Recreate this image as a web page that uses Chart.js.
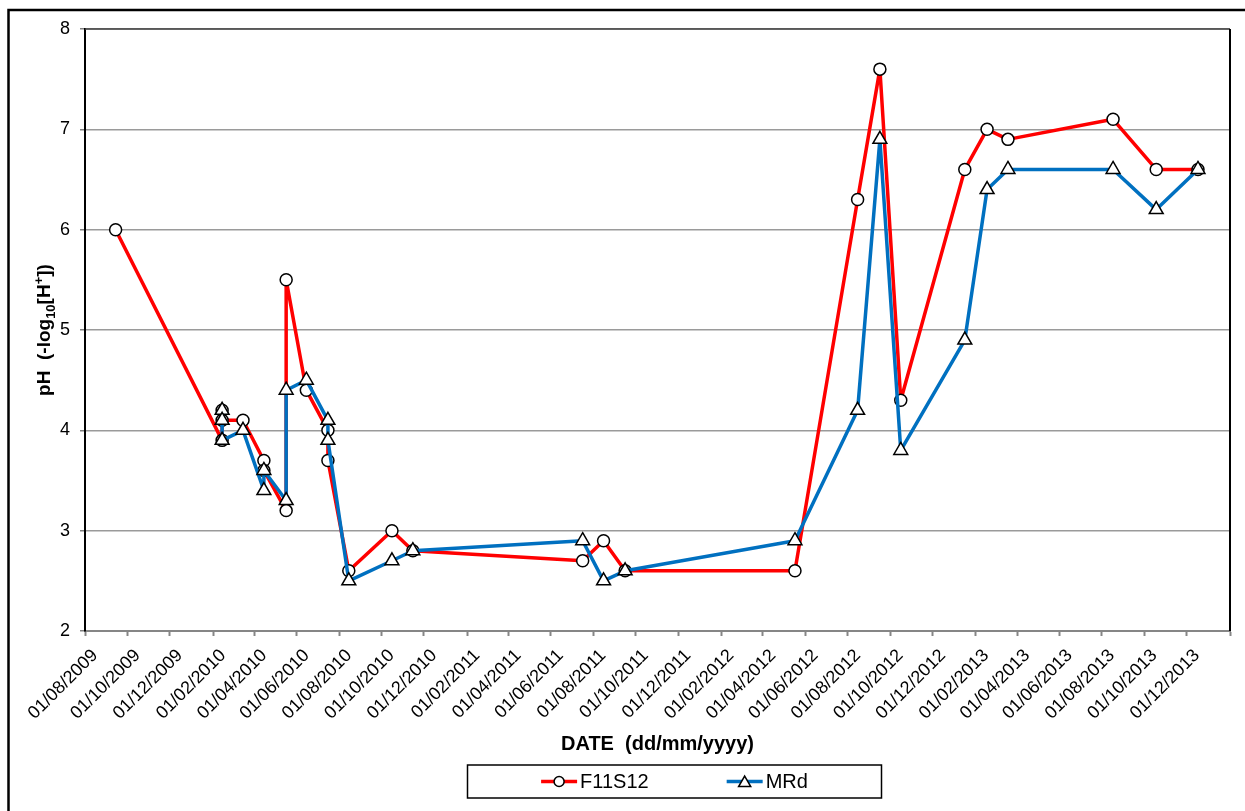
<!DOCTYPE html>
<html>
<head>
<meta charset="utf-8">
<title>pH F11S12 / MRd</title>
<script src="https://cdn.jsdelivr.net/npm/chart.js@4.4.1/dist/chart.umd.min.js"></script>
<style>
  html, body { margin: 0; padding: 0; background: #ffffff; }
  #wrap { width: 1245px; height: 811px; position: relative; }
  canvas { display: block; }
</style>
</head>
<body>
<div id="wrap"><canvas id="phChart" width="1245" height="811"></canvas></div>
<script>
// Sampling dates (dd/mm/yyyy) and pH readings for each monitoring point
const f11s12Dates = [
  '14/09/2009', '14/02/2010', '14/02/2010', '14/02/2010', '16/03/2010',
  '15/04/2010', '15/04/2010', '17/05/2010', '17/05/2010', '15/06/2010',
  '16/07/2010', '16/07/2010', '15/08/2010', '16/10/2010', '15/11/2010',
  '17/07/2011', '16/08/2011', '16/09/2011', '17/05/2012', '15/08/2012',
  '16/09/2012', '16/10/2012', '16/01/2013', '17/02/2013', '19/03/2013',
  '17/08/2013', '18/10/2013', '17/12/2013'
];
const f11s12Ph = [
  6.0, 3.9, 4.2, 4.1, 4.1,
  3.7, 3.6, 3.2, 5.5, 4.4,
  4.0, 3.7, 2.6, 3.0, 2.8,
  2.7, 2.9, 2.6, 2.6, 6.3,
  7.6, 4.3, 6.6, 7.0, 6.9,
  7.1, 6.6, 6.6
];

const mrdDates = [
  '14/02/2010', '14/02/2010', '14/02/2010', '16/03/2010',
  '15/04/2010', '15/04/2010', '17/05/2010', '17/05/2010', '15/06/2010',
  '16/07/2010', '16/07/2010', '15/08/2010', '16/10/2010', '15/11/2010',
  '17/07/2011', '16/08/2011', '16/09/2011', '17/05/2012', '15/08/2012',
  '16/09/2012', '16/10/2012', '16/01/2013', '17/02/2013', '19/03/2013',
  '17/08/2013', '18/10/2013', '17/12/2013'
];
const mrdPh = [
  4.2, 4.1, 3.9, 4.0,
  3.4, 3.6, 3.3, 4.4, 4.5,
  4.1, 3.9, 2.5, 2.7, 2.8,
  2.9, 2.5, 2.6, 2.9, 4.2,
  6.9, 3.8, 4.9, 6.4, 6.6,
  6.6, 6.2, 6.6
];

// Date axis: labelled ticks every two months, axis closes at xAxisEnd
const xTickLabels = [
  '01/08/2009', '01/10/2009', '01/12/2009', '01/02/2010', '01/04/2010',
  '01/06/2010', '01/08/2010', '01/10/2010', '01/12/2010', '01/02/2011',
  '01/04/2011', '01/06/2011', '01/08/2011', '01/10/2011', '01/12/2011',
  '01/02/2012', '01/04/2012', '01/06/2012', '01/08/2012', '01/10/2012',
  '01/12/2012', '01/02/2013', '01/04/2013', '01/06/2013', '01/08/2013',
  '01/10/2013', '01/12/2013'
];
const xAxisEnd = '01/02/2014';
const yTickValues = [2, 3, 4, 5, 6, 7, 8];

const seriesNames = ['F11S12', 'MRd'];
const xAxisTitle = 'DATE  (dd/mm/yyyy)';

// dd/mm/yyyy -> whole days since epoch (UTC)
function dayNumber(s) {
  const [d, m, y] = s.split('/').map(Number);
  return Date.UTC(y, m - 1, d) / 86400000;
}
function toPoints(dates, values) {
  return dates.map((d, i) => ({ x: dayNumber(d), y: values[i] }));
}

const FONT = '"Liberation Sans", Arial, Helvetica, sans-serif';
Chart.defaults.font.family = FONT;
Chart.defaults.color = '#000000';

// Page background, outer frame, plot frame, y title with sub/superscript, boxed legend
const decorations = {
  id: 'decorations',
  beforeDraw(chart) {
    const ctx = chart.ctx;
    ctx.save();
    ctx.fillStyle = '#ffffff';
    ctx.fillRect(0, 0, chart.width, chart.height);
    ctx.restore();
  },
  beforeDatasetsDraw(chart) {
    const { ctx, chartArea: ca } = chart;
    ctx.save();
    ctx.strokeStyle = '#404040';
    ctx.lineWidth = 1.5;
    ctx.beginPath();
    ctx.moveTo(ca.left, ca.top);
    ctx.lineTo(ca.right, ca.top);
    ctx.stroke();
    ctx.strokeStyle = '#000000';
    ctx.lineWidth = 2;
    ctx.beginPath();
    ctx.moveTo(ca.right, ca.top);
    ctx.lineTo(ca.right, ca.bottom);
    ctx.stroke();
    ctx.restore();
  },
  afterDraw(chart) {
    const { ctx, chartArea: ca } = chart;
    ctx.save();

    // outer chart frame
    ctx.strokeStyle = '#000000';
    ctx.lineWidth = 2.5;
    ctx.beginPath();
    ctx.moveTo(8.5, chart.height + 5);
    ctx.lineTo(8.5, 10);
    ctx.lineTo(chart.width + 5, 10);
    ctx.stroke();

    // y axis title: pH  (-log10[H+])
    const parts = [
      { t: 'pH  (-log', f: 'bold 19px ' + FONT, dy: 0 },
      { t: '10', f: 'bold 13px ' + FONT, dy: 5 },
      { t: '[H', f: 'bold 19px ' + FONT, dy: 0 },
      { t: '+', f: 'bold 13px ' + FONT, dy: -7 },
      { t: '])', f: 'bold 19px ' + FONT, dy: 0 }
    ];
    let total = 0;
    parts.forEach(p => { ctx.font = p.f; p.w = ctx.measureText(p.t).width; total += p.w; });
    ctx.translate(43, (ca.top + ca.bottom) / 2);
    ctx.rotate(-Math.PI / 2);
    ctx.fillStyle = '#000000';
    ctx.textBaseline = 'alphabetic';
    ctx.textAlign = 'left';
    let px = -total / 2;
    parts.forEach(p => { ctx.font = p.f; ctx.fillText(p.t, px, 6.5 + p.dy); px += p.w; });
    ctx.setTransform(1, 0, 0, 1, 0, 0);

    // legend
    const sample = 36, gapText = 3, gapItem = 78;
    const legendFont = '20px ' + FONT;
    ctx.font = legendFont;
    const items = chart.data.datasets.map(ds => ({
      label: ds.label, color: ds.borderColor, style: ds.pointStyle,
      radius: ds.pointRadius - 1, width: ctx.measureText(ds.label).width
    }));
    let groupW = 0;
    items.forEach((it, i) => { groupW += sample + gapText + it.width + (i ? gapItem : 0); });
    const cx = (ca.left + ca.right) / 2 + 17;
    const cy = 781.5;
    const boxW = 414, boxH = 33;
    ctx.strokeStyle = '#000000';
    ctx.lineWidth = 1.5;
    ctx.strokeRect(cx - boxW / 2, cy - boxH / 2, boxW, boxH);
    let x = cx - groupW / 2;
    items.forEach(it => {
      ctx.strokeStyle = it.color;
      ctx.lineWidth = 3.5;
      ctx.beginPath();
      ctx.moveTo(x, cy);
      ctx.lineTo(x + sample, cy);
      ctx.stroke();
      ctx.fillStyle = '#ffffff';
      ctx.strokeStyle = '#000000';
      ctx.lineWidth = 1.5;
      Chart.helpers.drawPoint(ctx, { pointStyle: it.style, radius: it.radius, rotation: 0, borderWidth: 1.5 },
        x + sample / 2, cy + (it.style === 'triangle' ? 1.5 : 0));
      ctx.fillStyle = '#000000';
      ctx.textAlign = 'left';
      ctx.textBaseline = 'middle';
      ctx.font = legendFont;
      ctx.fillText(it.label, x + sample + gapText, cy + 1);
      x += sample + gapText + it.width + gapItem;
    });
    ctx.restore();
  }
};

new Chart(document.getElementById('phChart'), {
  type: 'line',
  data: {
    datasets: [
      {
        label: seriesNames[0],
        data: toPoints(f11s12Dates, f11s12Ph),
        borderColor: '#ff0000',
        borderWidth: 3.5,
        borderJoinStyle: 'round',
        pointStyle: 'circle',
        pointRadius: 6,
        pointBorderWidth: 1.5,
        pointBorderColor: '#000000',
        pointBackgroundColor: '#ffffff',
        tension: 0,
        order: 1
      },
      {
        label: seriesNames[1],
        data: toPoints(mrdDates, mrdPh),
        borderColor: '#0070c0',
        borderWidth: 3.5,
        borderJoinStyle: 'round',
        pointStyle: 'triangle',
        pointRadius: 8,
        pointBorderWidth: 1.5,
        pointBorderColor: '#000000',
        pointBackgroundColor: '#ffffff',
        tension: 0,
        order: 0
      }
    ]
  },
  options: {
    responsive: false,
    animation: false,
    devicePixelRatio: 1,
    layout: { padding: { top: 29, right: 15, bottom: 0, left: 0 } },
    plugins: { legend: { display: false }, tooltip: { enabled: false } },
    scales: {
      x: {
        type: 'linear',
        min: dayNumber(xTickLabels[0]),
        max: dayNumber(xAxisEnd),
        afterBuildTicks(scale) {
          scale.ticks = xTickLabels.map(l => ({ value: dayNumber(l) }))
            .concat([{ value: dayNumber(xAxisEnd) }]);
        },
        afterFit(scale) {
          scale.height = 180;
          scale.paddingLeft = 0;
          scale.paddingRight = 0;
        },
        ticks: {
          autoSkip: false,
          minRotation: 45,
          maxRotation: 45,
          padding: 9,
          labelOffset: 10,
          font: { size: 18 },
          color: '#000000',
          callback: (value, index) => xTickLabels[index] || ''
        },
        grid: {
          drawOnChartArea: false,
          drawTicks: true,
          tickLength: 5,
          tickColor: '#868686',
          tickWidth: 2
        },
        border: { color: '#868686', width: 2 },
        title: {
          display: true,
          text: xAxisTitle,
          font: { size: 20, weight: 'bold' },
          color: '#000000',
          padding: { top: 0, bottom: 55 }
        }
      },
      y: {
        min: 2,
        max: 8,
        afterBuildTicks(scale) {
          scale.ticks = yTickValues.map(v => ({ value: v }));
        },
        afterFit(scale) { scale.width = 85; },
        ticks: {
          padding: 10,
          font: { size: 18 },
          color: '#000000',
          callback: v => String(v)
        },
        grid: {
          color: '#9a9a9a',
          lineWidth: 1.5,
          drawTicks: true,
          tickLength: 5,
          tickColor: '#808080',
          tickWidth: 1.5
        },
        border: { color: '#000000', width: 2 }
      }
    }
  },
  plugins: [decorations]
});
</script>
</body>
</html>
